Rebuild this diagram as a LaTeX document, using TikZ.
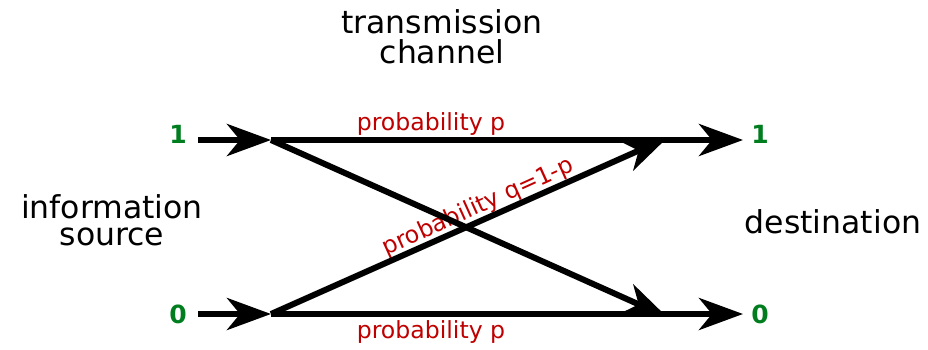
\documentclass[tikz,border=0pt]{standalone}
\usepackage{fontspec}
\setmainfont{DejaVu Sans}
\usetikzlibrary{arrows.meta}
\definecolor{digitgreen}{RGB}{0,125,30}
\definecolor{probred}{RGB}{190,0,0}
\begin{document}
\begin{tikzpicture}[x=1pt,y=1pt,
  bigtext/.style={font=\fontsize{31.5}{30}\selectfont, anchor=base, inner sep=0pt, text=black},
  digit/.style={font=\bfseries\fontsize{25}{25}\selectfont, anchor=base, inner sep=0pt, text=digitgreen},
  problabel/.style={font=\fontsize{23.6}{24}\selectfont, anchor=base, inner sep=0pt, text=probred},
  chan/.style={line width=6pt, -{Stealth[length=44pt,width=32pt,inset=13pt]}}]
\useasboundingbox (0,0) rectangle (928,349);
% coordinates
\coordinate (s1) at (198,209);
\coordinate (s0) at (198,35);
\coordinate (j1) at (271,209);
\coordinate (j0) at (271,35);
\coordinate (e1) at (743,209);
\coordinate (e0) at (743,35);
\coordinate (d1) at (667,211);
\coordinate (d0) at (667,32);
% texts
\node[bigtext] (tr) at (442,316) {transmission};
\node[bigtext] (ch) at (442,286) {channel};
\node[bigtext] (inf) at (112,131) {information};
\node[bigtext] (src) at (112,104) {source};
\node[bigtext] (dst) at (833,116) {destination};
\node[digit] (in1) at (178,206) {1};
\node[digit] (in0) at (178,26) {0};
\node[digit] (out1) at (760,206) {1};
\node[digit] (out0) at (760,26) {0};
\node[problabel] (pt) at (431,219) {probability p};
\node[problabel] (pb) at (431,11) {probability p};
\node[problabel, rotate=24.4] (pq) at (481,136) {probability q=1-p};
% connectors
\draw[chan] (s1) -- (j1);
\draw[chan] (s0) -- (j0);
\draw[chan] (j1) -- (e1);
\draw[chan] (j0) -- (e0);
\draw[chan] (j1) -- (d0);
\draw[chan] (j0) -- (d1);
\end{tikzpicture}
\end{document}
